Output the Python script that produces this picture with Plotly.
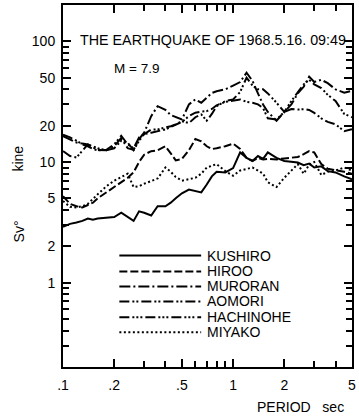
import plotly.graph_objects as go

# Periods (sec) at which the velocity response spectra are plotted
periods = [0.10, 0.11, 0.12, 0.13, 0.14, 0.15, 0.16, 0.18, 0.20, 0.22, 0.24, 0.26,
           0.28, 0.30, 0.33, 0.36, 0.40, 0.43, 0.46, 0.50, 0.55, 0.60, 0.65, 0.70,
           0.75, 0.80, 0.90, 1.0, 1.1, 1.2, 1.3, 1.4, 1.5, 1.6, 1.8, 2.0, 2.2, 2.4,
           2.6, 2.8, 3.0, 3.3, 3.6, 4.0, 4.5, 5.0]

# Sv0 (kine) per station
kushiro = [2.9, 3.07, 3.15, 3.25, 3.4, 3.32, 3.4, 3.47, 3.5, 3.8, 3.5, 3.25,
           3.9, 3.8, 3.6, 4.3, 4.3, 4.6, 5.0, 5.5, 5.9, 5.7, 5.6, 6.5,
           7.6, 8.3, 8.2, 8.9, 12.0, 10.8, 10.2, 11.2, 10.6, 12.0, 10.8, 10.2, 10.0, 9.9,
           9.4, 9.7, 9.0, 9.2, 8.4, 8.2, 7.6, 7.2]
hiroo = [5.2, 4.5, 4.3, 4.2, 4.4, 4.6, 5.0, 5.6, 6.2, 6.8, 7.4, 8.2,
         10.0, 11.5, 12.3, 12.5, 13.5, 11.8, 10.3, 10.6, 12.5, 15.5, 14.8, 13.5,
         12.8, 13.0, 13.5, 14.2, 12.8, 10.8, 10.2, 10.8, 10.5, 10.6, 10.5, 10.7, 10.8, 11.0,
         11.6, 12.3, 12.0, 9.6, 8.8, 8.6, 8.3, 8.0]
muroran = [16.4, 15.5, 14.5, 14.2, 14.0, 13.2, 12.6, 12.5, 13.5, 15.8, 13.0, 12.6,
           15.5, 17.5, 24.0, 29.0, 27.0, 24.5, 23.5, 22.5, 30.0, 33.0, 31.0, 34.0,
           37.3, 38.6, 40.0, 43.0, 46.0, 55.0, 47.0, 37.0, 30.0, 26.0, 22.0, 26.0, 30.0, 37.0,
           42.0, 51.0, 46.0, 48.0, 45.0, 40.0, 37.5, 39.0]
aomori = [16.8, 16.0, 15.0, 14.0, 13.5, 12.8, 12.5, 12.6, 14.0, 16.5, 14.0, 13.0,
          16.0, 17.0, 17.5, 18.0, 18.6, 19.5, 20.5, 21.5, 24.0, 25.6, 26.2, 26.4,
          27.5, 29.5, 31.5, 32.5, 33.0, 31.5, 31.0, 30.0, 28.0, 23.0, 22.5, 26.0, 27.5, 27.2,
          27.4, 27.0, 25.5, 23.0, 21.5, 20.5, 18.0, 18.7]
hachinohe = [12.3, 11.2, 10.9, 12.5, 14.0, 13.5, 13.0, 12.5, 13.0, 15.0, 14.5, 12.5,
             15.0, 17.0, 18.6, 18.6, 19.2, 19.8, 20.5, 21.8, 21.0, 23.5, 24.8, 22.0,
             25.0, 29.0, 32.0, 33.0, 38.0, 50.0, 43.0, 40.0, 40.0, 37.0, 31.0, 26.0, 32.0, 38.0,
             44.0, 48.0, 44.0, 41.0, 36.0, 32.0, 25.0, 23.5]
miyako = [4.75, 4.25, 4.2, 4.3, 4.5, 4.9, 5.4, 6.3, 7.0, 7.5, 8.0, 6.2,
          6.3, 6.6, 7.0, 7.3, 9.0, 8.3, 7.5, 7.0, 7.2, 7.4, 8.0, 9.0,
          9.3, 9.6, 8.4, 7.7, 8.5, 8.8, 9.0, 8.5, 8.0, 6.8, 6.2, 7.4, 8.5, 9.6,
          8.0, 9.5, 10.0, 7.8, 8.3, 8.5, 9.0, 8.5]

stations = ["KUSHIRO", "HIROO", "MURORAN", "AOMORI", "HACHINOHE", "MIYAKO"]
values = [kushiro, hiroo, muroran, aomori, hachinohe, miyako]
dashes = ["solid", "8px,3px", "11px,3px,2px,3px", "10px,3px,2px,2px,2px,3px",
          "10px,3px,2px,2px,2px,2px,2px,3px", "2px,2.5px"]

x_ticks = [0.1, 0.2, 0.5, 1, 2, 5]
x_ticktext = [".1", ".2", ".5", "1", "2", "5"]
x_minor = [0.3, 0.4, 0.6, 0.7, 0.8, 0.9, 3, 4]
y_ticks = [1, 2, 5, 10, 20, 50, 100]
y_ticktext = ["1", "2", "5", "10", "20", "50", "100"]
y_minor = [0.3, 0.4, 0.5, 0.6, 0.7, 0.8, 0.9, 3, 4, 6, 7, 8, 9,
           30, 40, 60, 70, 80, 90]

X_RANGE = [-1, 0.69897]
Y_RANGE = [-0.69897, 2.30103]
FONT = "Liberation Sans, Arial, sans-serif"
LW = 2.0

fig = go.Figure()
for name, vals, dash in zip(stations, values, dashes):
    fig.add_trace(go.Scatter(x=periods, y=vals, mode="lines", name=name,
                             line=dict(color="black", width=LW, dash=dash),
                             showlegend=False))
# Empty trace so the overlaid tick-only axes are rendered
fig.add_trace(go.Scatter(x=[], y=[], xaxis="x2", yaxis="y2", showlegend=False,
                         hoverinfo="skip"))

# Legend drawn as line samples with labels inside the plot frame
legend_rows = [0.308, 0.264, 0.2225, 0.181, 0.1375, 0.096]
for name, dash, yy in zip(stations, dashes, legend_rows):
    fig.add_shape(type="line", xref="paper", yref="paper", x0=0.195, x1=0.478,
                  y0=yy, y1=yy, line=dict(color="black", width=LW, dash=dash))
    fig.add_annotation(x=0.4915, y=yy, xref="paper", yref="paper", text=name,
                       showarrow=False, xanchor="left", yanchor="middle",
                       font=dict(family=FONT, size=14, color="black"))

fig.add_annotation(x=0.052, y=0.904, xref="paper", yref="paper",
                   text="THE EARTHQUAKE OF 1968.5.16. 09:49", showarrow=False,
                   xanchor="left", yanchor="middle",
                   font=dict(family=FONT, size=14.3, color="black"))
fig.add_annotation(x=0.1706, y=0.824, xref="paper", yref="paper",
                   text="M = 7.9", showarrow=False, xanchor="left", yanchor="middle",
                   font=dict(family=FONT, size=13.5, color="black"))
fig.add_annotation(x=-0.154, y=0.577, xref="paper", yref="paper", text="kine",
                   showarrow=False, textangle=-90, xanchor="center", yanchor="middle",
                   font=dict(family=FONT, size=14, color="black"))
fig.add_annotation(x=-0.154, y=0.376, xref="paper", yref="paper", text="Sv°",
                   showarrow=False, textangle=-90, xanchor="center", yanchor="middle",
                   font=dict(family=FONT, size=14, color="black"))
fig.add_annotation(x=0.98, y=-0.11, xref="paper", yref="paper", text="PERIOD&nbsp;&nbsp;&nbsp;sec",
                   showarrow=False, xanchor="right", yanchor="middle",
                   font=dict(family=FONT, size=14, color="black"))

tick_style = dict(ticks="inside", tickcolor="black", showline=True, linecolor="black",
                  linewidth=2, mirror="allticks", showgrid=False, zeroline=False)

fig.update_layout(
    # Labelled ticks
    xaxis=dict(type="log", range=X_RANGE, tickmode="array", tickvals=x_ticks,
               ticktext=x_ticktext, ticklen=8, tickwidth=2, ticklabelstandoff=4,
               tickfont=dict(family=FONT, size=14, color="black"), **tick_style),
    yaxis=dict(type="log", range=Y_RANGE, tickmode="array", tickvals=y_ticks,
               ticktext=y_ticktext, ticklen=8, tickwidth=2, ticklabelstandoff=3,
               tickfont=dict(family=FONT, size=14, color="black"), **tick_style),
    # Unlabelled intermediate ticks on overlaid axes
    xaxis2=dict(type="log", range=X_RANGE, overlaying="x", anchor="y", side="bottom",
                tickmode="array", tickvals=x_minor, showticklabels=False,
                ticklen=6, tickwidth=2, **tick_style),
    yaxis2=dict(type="log", range=Y_RANGE, overlaying="y", anchor="x", side="left",
                tickmode="array", tickvals=y_minor, showticklabels=False,
                ticklen=6, tickwidth=2, **tick_style),
    width=359, height=419, margin=dict(l=63, r=3, t=3, b=52),
    paper_bgcolor="white", plot_bgcolor="white", showlegend=False,
)

fig.write_html("out.html")
